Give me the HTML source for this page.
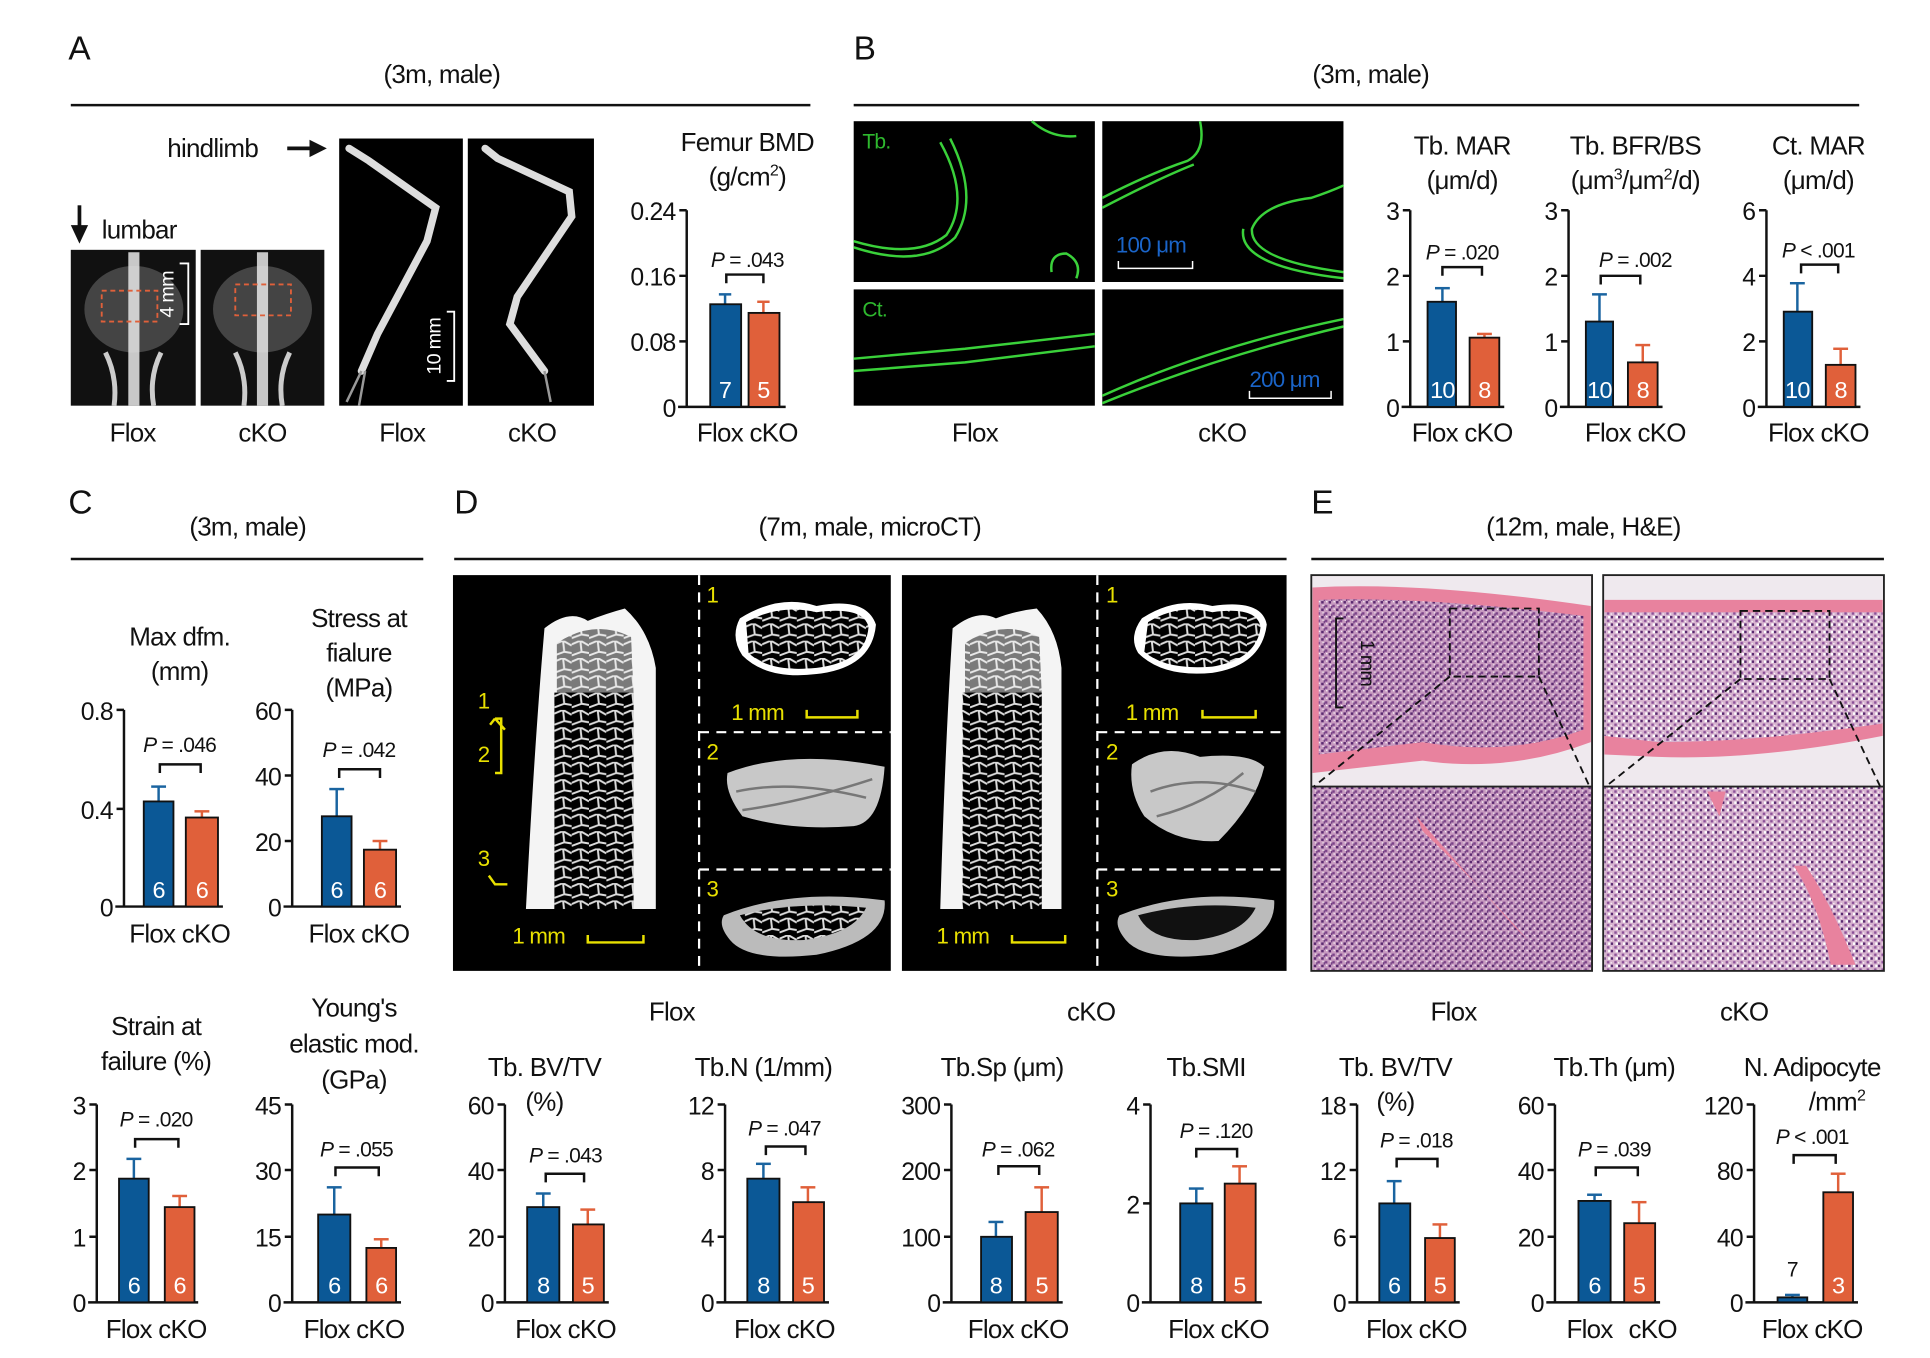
<!DOCTYPE html>
<html><head><meta charset="utf-8">
<style>
html,body{margin:0;padding:0;background:#fff;width:1930px;height:1358px;overflow:hidden}
svg{display:block}
text{font-family:"Liberation Sans Narrow","Liberation Sans",sans-serif;fill:#111;letter-spacing:-0.6px}
.t{font-size:21px;text-anchor:middle}
.tk{font-size:20px;text-anchor:end}
.p{font-size:17px;text-anchor:middle}
.n{font-size:19px;text-anchor:middle;fill:#fff}
.L{font-size:27px;font-family:"Liberation Sans",sans-serif}
.ax{stroke:#111;stroke-width:2;fill:none}
.fb{fill:#0b5896;stroke:#111;stroke-width:1.5}
.fo{fill:#e0603a;stroke:#111;stroke-width:1.5}
.eb{stroke:#1a64a0;stroke-width:2}
.eo{stroke:#e0603a;stroke-width:2}
.br{stroke:#111;stroke-width:2;fill:none}
.y{fill:#e8e000;font-size:18px}
.yl{stroke:#e8e000;stroke-width:2;fill:none}
.g{stroke:#3ad13a;fill:none}
</style></head><body>
<svg width="1930" height="1358" viewBox="0 0 1560 1098" xmlns="http://www.w3.org/2000/svg">
<defs>
<pattern id="trab" width="14" height="14" patternUnits="userSpaceOnUse">
<rect width="14" height="14" fill="#000"/><path d="M0 3 L7 0 L14 4 M7 0 L8 9 L0 12 M8 9 L14 10" stroke="#ddd" stroke-width="1.6" fill="none"/></pattern>
<pattern id="he" width="6" height="6" patternUnits="userSpaceOnUse">
<rect width="6" height="6" fill="#c79ac0"/><rect x="0" y="0" width="2" height="2" fill="#5a2a70"/><rect x="3" y="3" width="2" height="2" fill="#7a4288"/><rect x="2" y="4" width="1" height="2" fill="#6a3a7e"/><rect x="4" y="0" width="1" height="1" fill="#fff"/><rect x="1" y="3" width="1" height="1" fill="#f3eef2"/></pattern>
<pattern id="he2" width="6" height="6" patternUnits="userSpaceOnUse">
<rect width="6" height="6" fill="#d8b4d0"/><rect x="0" y="0" width="2" height="2" fill="#5a2a70"/><rect x="3" y="3" width="2" height="2" fill="#8a5098"/><rect x="4" y="0" width="2" height="2" fill="#fff"/><rect x="0" y="4" width="1" height="1" fill="#fff"/></pattern>
</defs>

<!-- ===== Panel A ===== -->
<text x="55" y="48" class="L">A</text>
<text x="357" y="67" class="t">(3m, male)</text>
<line x1="57" y1="85" x2="655" y2="85" stroke="#111" stroke-width="2"/>
<text x="135" y="127" style="font-size:21px">hindlimb</text>
<path d="M232 120 H252" stroke="#111" stroke-width="3"/><path d="M250 113 L264 120 L250 127Z" fill="#111"/>
<path d="M64 166 V184" stroke="#111" stroke-width="3"/><path d="M57 182 L64 197 L71 182Z" fill="#111"/>
<text x="82" y="193" style="font-size:21px">lumbar</text>
<rect x="57" y="202" width="101" height="126" fill="#111"/>
<rect x="162" y="202" width="100" height="126" fill="#111"/>
<g fill="#777" opacity="0.5"><ellipse cx="108" cy="250" rx="40" ry="35"/><ellipse cx="212" cy="250" rx="40" ry="35"/></g>
<g stroke="#e8e8e8" stroke-width="9" fill="none" opacity=".85"><path d="M108 204 V328"/><path d="M212 204 V328"/></g>
<g stroke="#ccc" stroke-width="4" fill="none"><path d="M85 285 Q95 305 92 328 M130 285 Q120 305 124 328 M190 285 Q200 305 197 328 M234 285 Q224 305 228 328"/></g>
<rect x="82" y="235" width="45" height="25" fill="none" stroke="#e0603a" stroke-width="1.5" stroke-dasharray="4 3"/>
<rect x="190" y="230" width="45" height="25" fill="none" stroke="#e0603a" stroke-width="1.5" stroke-dasharray="4 3"/>
<path d="M145 213 H152 V262 H145" stroke="#fff" stroke-width="1.5" fill="none"/>
<text x="0" y="0" transform="translate(140 238) rotate(-90)" style="font-size:16px;fill:#fff;text-anchor:middle">4 mm</text>
<rect x="274" y="112" width="100" height="216" fill="#000"/>
<rect x="378" y="112" width="102" height="216" fill="#000"/>
<g stroke="#ddd" stroke-width="6" fill="none" stroke-linecap="round"><path d="M282 120 L298 130 L352 168 L345 195 L305 270 L292 300"/><path d="M392 120 L402 128 L460 155 L462 175 L418 240 L412 262 L440 300"/></g>
<g stroke="#999" stroke-width="2" fill="none"><path d="M292 300 L280 325 M295 300 L290 328 M440 300 L445 325"/></g>
<path d="M361 252 H367 V308 H361" stroke="#fff" stroke-width="1.5" fill="none"/>
<text transform="translate(356 280) rotate(-90)" style="font-size:16px;fill:#fff;text-anchor:middle">10 mm</text>
<text x="107" y="357" class="t">Flox</text><text x="212" y="357" class="t">cKO</text>
<text x="325" y="357" class="t">Flox</text><text x="430" y="357" class="t">cKO</text>
<!-- BMD -->
<text x="604" y="122" class="t">Femur BMD</text>
<text x="604" y="150" class="t">(g/cm<tspan dy="-8" style="font-size:13px">2</tspan><tspan dy="8">)</tspan></text>
<path class="ax" d="M555 170 V329 M548 329 H635 M549 170 H555 M549 223 H555 M549 276 H555"/>
<text x="546" y="178" class="tk">0.24</text><text x="546" y="231" class="tk">0.16</text><text x="546" y="284" class="tk">0.08</text><text x="546" y="337" class="tk">0</text>
<line x1="586" y1="238" x2="586" y2="246" class="eb"/><line x1="581" y1="238" x2="591" y2="238" class="eb"/>
<line x1="617" y1="244" x2="617" y2="253" class="eo"/><line x1="612" y1="244" x2="622" y2="244" class="eo"/>
<rect x="574" y="246" width="25" height="83" class="fb"/><rect x="605" y="253" width="25" height="76" class="fo"/>
<text x="586" y="322" class="n">7</text><text x="617" y="322" class="n">5</text>
<text x="604" y="216" class="p"><tspan font-style="italic">P</tspan> = .043</text>
<path class="br" d="M587 229 V222 H617 V229"/>
<text x="604" y="357" class="t">Flox cKO</text>

<!-- ===== Panel B ===== -->
<text x="690" y="48" class="L">B</text>
<text x="1108" y="67" class="t">(3m, male)</text>
<line x1="690" y1="85" x2="1503" y2="85" stroke="#111" stroke-width="2"/>
<rect x="690" y="98" width="195" height="130" fill="#000"/>
<rect x="891" y="98" width="195" height="130" fill="#000"/>
<rect x="690" y="234" width="195" height="94" fill="#000"/>
<rect x="891" y="234" width="195" height="94" fill="#000"/>
<text x="697" y="120" style="font-size:17px;fill:#2eb82e">Tb.</text>
<text x="697" y="256" style="font-size:17px;fill:#2eb82e">Ct.</text>
<g class="g" stroke-width="2"><path d="M690 195 Q740 210 765 190 Q785 160 760 115"/><path d="M690 200 Q745 218 772 192 Q792 160 768 112"/><path d="M834 98 Q850 112 870 110"/><path d="M850 220 Q848 205 862 205 Q875 212 870 225"/>
<path d="M891 160 Q930 140 960 130 Q975 122 970 98"/><path d="M891 168 Q935 145 965 133"/><path d="M1086 220 Q1010 210 1012 185 Q1020 165 1060 160 Q1075 155 1086 150"/><path d="M1086 225 Q1000 215 1005 185"/>
<path d="M690 290 L780 282 L885 270"/><path d="M690 300 L780 293 L885 280"/><path d="M891 320 Q980 280 1086 258"/><path d="M891 326 Q985 288 1086 264"/></g>
<text x="902" y="204" style="font-size:18px;fill:#1a64c8">100 μm</text>
<path d="M904 211 V217 H964 V211" stroke="#fff" stroke-width="1.2" fill="none"/>
<text x="1010" y="313" style="font-size:18px;fill:#1a64c8">200 μm</text>
<path d="M1010 316 V322 H1076 V316" stroke="#fff" stroke-width="1.2" fill="none"/>
<text x="788" y="357" class="t">Flox</text><text x="988" y="357" class="t">cKO</text>
<!-- Tb MAR -->
<text x="1182" y="125" class="t">Tb. MAR</text><text x="1182" y="153" class="t">(μm/d)</text>
<path class="ax" d="M1140 170 V329 M1133 329 H1216 M1134 170 H1140 M1134 223 H1140 M1134 276 H1140"/>
<text x="1131" y="178" class="tk">3</text><text x="1131" y="231" class="tk">2</text><text x="1131" y="284" class="tk">1</text><text x="1131" y="337" class="tk">0</text>
<line x1="1166" y1="233" x2="1166" y2="244" class="eb"/><line x1="1160" y1="233" x2="1172" y2="233" class="eb"/>
<line x1="1200" y1="270" x2="1200" y2="273" class="eo"/><line x1="1194" y1="270" x2="1206" y2="270" class="eo"/>
<rect x="1154" y="244" width="23" height="85" class="fb"/><rect x="1188" y="273" width="24" height="56" class="fo"/>
<text x="1166" y="322" class="n">10</text><text x="1200" y="322" class="n">8</text>
<text x="1182" y="210" class="p"><tspan font-style="italic">P</tspan> = .020</text>
<path class="br" d="M1166 223 V216 H1198 V223"/>
<text x="1182" y="357" class="t">Flox cKO</text>
<!-- BFR -->
<text x="1322" y="125" class="t">Tb. BFR/BS</text>
<text x="1322" y="153" class="t">(μm<tspan dy="-8" style="font-size:13px">3</tspan><tspan dy="8">/μm</tspan><tspan dy="-8" style="font-size:13px">2</tspan><tspan dy="8">/d)</tspan></text>
<path class="ax" d="M1268 170 V329 M1261 329 H1344 M1262 170 H1268 M1262 223 H1268 M1262 276 H1268"/>
<text x="1259" y="178" class="tk">3</text><text x="1259" y="231" class="tk">2</text><text x="1259" y="284" class="tk">1</text><text x="1259" y="337" class="tk">0</text>
<line x1="1293" y1="238" x2="1293" y2="260" class="eb"/><line x1="1287" y1="238" x2="1299" y2="238" class="eb"/>
<line x1="1328" y1="279" x2="1328" y2="293" class="eo"/><line x1="1322" y1="279" x2="1334" y2="279" class="eo"/>
<rect x="1282" y="260" width="22" height="69" class="fb"/><rect x="1316" y="293" width="24" height="36" class="fo"/>
<text x="1293" y="322" class="n">10</text><text x="1328" y="322" class="n">8</text>
<text x="1322" y="216" class="p"><tspan font-style="italic">P</tspan> = .002</text>
<path class="br" d="M1294 230 V223 H1326 V230"/>
<text x="1322" y="357" class="t">Flox cKO</text>
<!-- Ct MAR -->
<text x="1470" y="125" class="t">Ct. MAR</text><text x="1470" y="153" class="t">(μm/d)</text>
<path class="ax" d="M1428 170 V329 M1421 329 H1504 M1422 170 H1428 M1422 223 H1428 M1422 276 H1428"/>
<text x="1419" y="178" class="tk">6</text><text x="1419" y="231" class="tk">4</text><text x="1419" y="284" class="tk">2</text><text x="1419" y="337" class="tk">0</text>
<line x1="1453" y1="229" x2="1453" y2="252" class="eb"/><line x1="1447" y1="229" x2="1459" y2="229" class="eb"/>
<line x1="1488" y1="282" x2="1488" y2="295" class="eo"/><line x1="1482" y1="282" x2="1494" y2="282" class="eo"/>
<rect x="1442" y="252" width="23" height="77" class="fb"/><rect x="1476" y="295" width="24" height="34" class="fo"/>
<text x="1453" y="322" class="n">10</text><text x="1488" y="322" class="n">8</text>
<text x="1470" y="208" class="p"><tspan font-style="italic">P</tspan> &lt; .001</text>
<path class="br" d="M1456 221 V214 H1486 V221"/>
<text x="1470" y="357" class="t">Flox cKO</text>

<!-- ===== Panel C ===== -->
<text x="55" y="415" class="L">C</text>
<text x="200" y="433" class="t">(3m, male)</text>
<line x1="57" y1="452" x2="342" y2="452" stroke="#111" stroke-width="2"/>
<text x="145" y="522" class="t">Max dfm.</text><text x="145" y="550" class="t">(mm)</text>
<path class="ax" d="M100 574 V733 M93 733 H180 M94 574 H100 M94 654 H100"/>
<text x="91" y="582" class="tk">0.8</text><text x="91" y="662" class="tk">0.4</text><text x="91" y="741" class="tk">0</text>
<line x1="128" y1="636" x2="128" y2="648" class="eb"/><line x1="122" y1="636" x2="134" y2="636" class="eb"/>
<line x1="163" y1="656" x2="163" y2="661" class="eo"/><line x1="157" y1="656" x2="169" y2="656" class="eo"/>
<rect x="116" y="648" width="24" height="85" class="fb"/><rect x="150" y="661" width="26" height="72" class="fo"/>
<text x="128" y="726" class="n">6</text><text x="163" y="726" class="n">6</text>
<text x="145" y="608" class="p"><tspan font-style="italic">P</tspan> = .046</text>
<path class="br" d="M129 625 V618 H162 V625"/>
<text x="145" y="762" class="t">Flox cKO</text>
<text x="290" y="507" class="t">Stress at</text><text x="290" y="535" class="t">fialure</text><text x="290" y="563" class="t">(MPa)</text>
<path class="ax" d="M236 574 V733 M229 733 H324 M230 574 H236 M230 627 H236 M230 680 H236"/>
<text x="227" y="582" class="tk">60</text><text x="227" y="635" class="tk">40</text><text x="227" y="688" class="tk">20</text><text x="227" y="741" class="tk">0</text>
<line x1="272" y1="638" x2="272" y2="660" class="eb"/><line x1="266" y1="638" x2="278" y2="638" class="eb"/>
<line x1="307" y1="680" x2="307" y2="687" class="eo"/><line x1="301" y1="680" x2="313" y2="680" class="eo"/>
<rect x="260" y="660" width="24" height="73" class="fb"/><rect x="294" y="687" width="26" height="46" class="fo"/>
<text x="272" y="726" class="n">6</text><text x="307" y="726" class="n">6</text>
<text x="290" y="612" class="p"><tspan font-style="italic">P</tspan> = .042</text>
<path class="br" d="M274 629 V622 H307 V629"/>
<text x="290" y="762" class="t">Flox cKO</text>
<text x="126" y="837" class="t">Strain at</text><text x="126" y="865" class="t">failure (%)</text>
<path class="ax" d="M78 893 V1053 M71 1053 H160 M72 893 H78 M72 946 H78 M72 1000 H78"/>
<text x="69" y="901" class="tk">3</text><text x="69" y="954" class="tk">2</text><text x="69" y="1008" class="tk">1</text><text x="69" y="1061" class="tk">0</text>
<line x1="108" y1="937" x2="108" y2="953" class="eb"/><line x1="102" y1="937" x2="114" y2="937" class="eb"/>
<line x1="145" y1="967" x2="145" y2="976" class="eo"/><line x1="139" y1="967" x2="151" y2="967" class="eo"/>
<rect x="96" y="953" width="24" height="100" class="fb"/><rect x="133" y="976" width="24" height="77" class="fo"/>
<text x="108" y="1046" class="n">6</text><text x="145" y="1046" class="n">6</text>
<text x="126" y="911" class="p"><tspan font-style="italic">P</tspan> = .020</text>
<path class="br" d="M109 928 V921 H144 V928"/>
<text x="126" y="1082" class="t">Flox cKO</text>
<text x="286" y="822" class="t">Young's</text><text x="286" y="851" class="t">elastic mod.</text><text x="286" y="880" class="t">(GPa)</text>
<path class="ax" d="M236 893 V1053 M229 1053 H324 M230 893 H236 M230 946 H236 M230 1000 H236"/>
<text x="227" y="901" class="tk">45</text><text x="227" y="954" class="tk">30</text><text x="227" y="1008" class="tk">15</text><text x="227" y="1061" class="tk">0</text>
<line x1="270" y1="960" x2="270" y2="982" class="eb"/><line x1="264" y1="960" x2="276" y2="960" class="eb"/>
<line x1="308" y1="1002" x2="308" y2="1009" class="eo"/><line x1="302" y1="1002" x2="314" y2="1002" class="eo"/>
<rect x="257" y="982" width="26" height="71" class="fb"/><rect x="296" y="1009" width="24" height="44" class="fo"/>
<text x="270" y="1046" class="n">6</text><text x="308" y="1046" class="n">6</text>
<text x="288" y="935" class="p"><tspan font-style="italic">P</tspan> = .055</text>
<path class="br" d="M271 951 V944 H306 V951"/>
<text x="286" y="1082" class="t">Flox cKO</text>

<!-- ===== Panel D ===== -->
<text x="367" y="415" class="L">D</text>
<text x="703" y="433" class="t">(7m, male, microCT)</text>
<line x1="367" y1="452" x2="1040" y2="452" stroke="#111" stroke-width="2"/>
<rect x="366" y="465" width="354" height="320" fill="#000"/>
<rect x="729" y="465" width="311" height="320" fill="#000"/>
<path d="M440 508 Q460 492 475 502 Q490 496 505 492 Q525 510 530 540 L530 735 L512 735 L512 560 L452 560 L448 735 L425 735 Q432 600 440 508Z" fill="#f4f4f4"/>
<rect x="448" y="560" width="64" height="175" fill="url(#trab)"/>
<path d="M450 520 Q480 500 510 515 L512 560 L450 560Z" fill="url(#trab)" opacity=".5"/>
<path d="M770 508 Q790 492 805 500 Q820 494 838 492 Q855 510 858 540 L858 735 L842 735 L842 560 L782 560 L778 735 L760 735 Q764 600 770 508Z" fill="#f4f4f4"/>
<rect x="778" y="560" width="64" height="175" fill="url(#trab)"/>
<path d="M780 520 Q810 500 840 515 L842 560 L780 560Z" fill="url(#trab)" opacity=".5"/>
<g>
<path d="M598 500 Q630 480 660 490 Q700 482 708 505 Q705 540 660 545 Q620 550 600 530 Q590 515 598 500Z" fill="#fff"/>
<path d="M603 503 Q630 488 660 495 Q698 490 702 507 Q700 535 660 540 Q622 544 605 528Z" fill="url(#trab)"/>
<path d="M923 500 Q950 482 980 490 Q1020 484 1024 505 Q1020 538 980 544 Q940 548 920 528 Q912 515 923 500Z" fill="#fff"/>
<path d="M928 503 Q952 488 980 495 Q1016 490 1019 507 Q1016 533 980 539 Q942 542 925 527Z" fill="url(#trab)"/>
<path d="M588 625 Q640 605 715 620 Q712 665 690 668 Q640 672 600 660 Q585 640 588 625Z" fill="#c8c8c8"/>
<path d="M915 618 Q940 600 970 612 Q1010 608 1022 620 Q1015 650 985 680 Q950 682 925 660 Q912 640 915 618Z" fill="#c8c8c8"/>
<g stroke="#777" stroke-width="2" fill="none"><path d="M595 640 Q640 630 700 645 M600 655 Q650 648 705 630 M930 640 Q970 625 1015 640 M935 660 Q975 650 1005 625"/></g>
<path d="M585 740 Q640 718 715 728 Q718 760 660 772 Q605 778 590 760 Q580 748 585 740Z" fill="#bbb"/>
<path d="M598 740 Q645 728 700 734 Q690 755 650 760 Q610 762 598 740Z" fill="url(#trab)"/>
<path d="M905 740 Q960 718 1030 728 Q1032 760 980 772 Q925 778 910 760 Q900 748 905 740Z" fill="#bbb"/>
<path d="M920 740 Q965 728 1015 734 Q1005 755 968 760 Q930 762 920 740Z" fill="#111"/>
</g>
<g stroke="#fff" stroke-width="1.8" stroke-dasharray="8 6" fill="none"><path d="M565 465 V785 M565 592 H720 M565 703 H720 M887 465 V785 M887 592 H1040 M887 703 H1040"/></g>
<text x="571" y="487" class="y">1</text><text x="571" y="614" class="y">2</text><text x="571" y="725" class="y">3</text>
<text x="894" y="487" class="y">1</text><text x="894" y="614" class="y">2</text><text x="894" y="725" class="y">3</text>
<text x="591" y="582" class="y">1 mm</text><path class="yl" d="M652 574 V580 H693 V574"/>
<text x="910" y="582" class="y">1 mm</text><path class="yl" d="M972 574 V580 H1015 V574"/>
<text x="414" y="763" class="y">1 mm</text><path class="yl" d="M475 756 V762 H520 V756"/>
<text x="757" y="763" class="y">1 mm</text><path class="yl" d="M818 756 V762 H861 V756"/>
<text x="386" y="573" class="y">1</text><text x="386" y="616" class="y">2</text><text x="386" y="700" class="y">3</text>
<path class="yl" d="M400 581 H405 V625 H400 M408 590 L400 581 M396 586 L400 581 M410 715 H400 L395 708"/>
<text x="543" y="825" class="t">Flox</text><text x="882" y="825" class="t">cKO</text>
<text x="440" y="870" class="t">Tb. BV/TV</text><text x="440" y="898" class="t">(%)</text>
<path class="ax" d="M408 893 V1053 M401 1053 H492 M402 893 H408 M402 946 H408 M402 1000 H408"/>
<text x="399" y="901" class="tk">60</text><text x="399" y="954" class="tk">40</text><text x="399" y="1008" class="tk">20</text><text x="399" y="1061" class="tk">0</text>
<line x1="439" y1="965" x2="439" y2="976" class="eb"/><line x1="433" y1="965" x2="445" y2="965" class="eb"/>
<line x1="475" y1="978" x2="475" y2="990" class="eo"/><line x1="469" y1="978" x2="481" y2="978" class="eo"/>
<rect x="426" y="976" width="26" height="77" class="fb"/><rect x="463" y="990" width="25" height="63" class="fo"/>
<text x="439" y="1046" class="n">8</text><text x="475" y="1046" class="n">5</text>
<text x="457" y="940" class="p"><tspan font-style="italic">P</tspan> = .043</text>
<path class="br" d="M441 956 V949 H472 V956"/>
<text x="457" y="1082" class="t">Flox cKO</text>
<text x="617" y="870" class="t">Tb.N (1/mm)</text>
<path class="ax" d="M586 893 V1053 M579 1053 H670 M580 893 H586 M580 946 H586 M580 1000 H586"/>
<text x="577" y="901" class="tk">12</text><text x="577" y="954" class="tk">8</text><text x="577" y="1008" class="tk">4</text><text x="577" y="1061" class="tk">0</text>
<line x1="617" y1="941" x2="617" y2="953" class="eb"/><line x1="611" y1="941" x2="623" y2="941" class="eb"/>
<line x1="653" y1="960" x2="653" y2="972" class="eo"/><line x1="647" y1="960" x2="659" y2="960" class="eo"/>
<rect x="604" y="953" width="26" height="100" class="fb"/><rect x="641" y="972" width="25" height="81" class="fo"/>
<text x="617" y="1046" class="n">8</text><text x="653" y="1046" class="n">5</text>
<text x="634" y="918" class="p"><tspan font-style="italic">P</tspan> = .047</text>
<path class="br" d="M619 934 V927 H651 V934"/>
<text x="634" y="1082" class="t">Flox cKO</text>
<text x="810" y="870" class="t">Tb.Sp (μm)</text>
<path class="ax" d="M769 893 V1053 M762 1053 H859 M763 893 H769 M763 946 H769 M763 1000 H769"/>
<text x="760" y="901" class="tk">300</text><text x="760" y="954" class="tk">200</text><text x="760" y="1008" class="tk">100</text><text x="760" y="1061" class="tk">0</text>
<line x1="805" y1="988" x2="805" y2="1000" class="eb"/><line x1="799" y1="988" x2="811" y2="988" class="eb"/>
<line x1="842" y1="960" x2="842" y2="980" class="eo"/><line x1="836" y1="960" x2="848" y2="960" class="eo"/>
<rect x="793" y="1000" width="25" height="53" class="fb"/><rect x="829" y="980" width="26" height="73" class="fo"/>
<text x="805" y="1046" class="n">8</text><text x="842" y="1046" class="n">5</text>
<text x="823" y="935" class="p"><tspan font-style="italic">P</tspan> = .062</text>
<path class="br" d="M807 950 V943 H840 V950"/>
<text x="823" y="1082" class="t">Flox cKO</text>
<text x="975" y="870" class="t">Tb.SMI</text>
<path class="ax" d="M930 893 V1053 M923 1053 H1020 M924 893 H930 M924 973 H930"/>
<text x="921" y="901" class="tk">4</text><text x="921" y="981" class="tk">2</text><text x="921" y="1061" class="tk">0</text>
<line x1="967" y1="961" x2="967" y2="973" class="eb"/><line x1="961" y1="961" x2="973" y2="961" class="eb"/>
<line x1="1002" y1="943" x2="1002" y2="957" class="eo"/><line x1="996" y1="943" x2="1008" y2="943" class="eo"/>
<rect x="954" y="973" width="26" height="80" class="fb"/><rect x="990" y="957" width="25" height="96" class="fo"/>
<text x="967" y="1046" class="n">8</text><text x="1002" y="1046" class="n">5</text>
<text x="983" y="920" class="p"><tspan font-style="italic">P</tspan> = .120</text>
<path class="br" d="M967 936 V929 H1000 V936"/>
<text x="985" y="1082" class="t">Flox cKO</text>

<!-- ===== Panel E ===== -->
<text x="1060" y="415" class="L">E</text>
<text x="1280" y="433" class="t">(12m, male, H&amp;E)</text>
<line x1="1060" y1="452" x2="1523" y2="452" stroke="#111" stroke-width="2"/>
<rect x="1060" y="465" width="227" height="320" fill="#efe9ee"/>
<rect x="1296" y="465" width="227" height="320" fill="#efe9ee"/>
<path d="M1061 475 Q1150 470 1286 490 L1286 600 Q1220 625 1150 615 L1061 625Z" fill="#e8829e"/>
<path d="M1066 485 Q1150 482 1280 498 L1280 590 Q1220 612 1150 600 L1066 610Z" fill="url(#he)"/>
<path d="M1297 485 L1522 485 L1522 595 Q1420 615 1340 612 L1297 610Z" fill="#e8829e"/>
<path d="M1297 495 L1522 495 L1522 585 Q1420 600 1340 600 L1297 595Z" fill="url(#he2)"/>
<rect x="1061" y="636" width="226" height="149" fill="url(#he)"/>
<rect x="1297" y="636" width="226" height="149" fill="url(#he2)"/>
<path d="M1145 660 Q1180 700 1225 750 L1235 760 Q1200 720 1150 672Z" fill="#e8829e"/>
<path d="M1380 640 L1390 660 L1395 640Z M1450 700 Q1470 730 1480 780 L1500 780 Q1480 730 1460 700Z" fill="#e8829e"/>
<g stroke="#222" stroke-width="1.5" fill="none"><rect x="1060" y="465" width="227" height="320"/><rect x="1296" y="465" width="227" height="320"/><path d="M1060 636 H1287 M1296 636 H1523"/></g>
<g stroke="#111" stroke-width="1.5" fill="none" stroke-dasharray="6 4"><rect x="1172" y="492" width="72" height="55"/><path d="M1172 547 L1062 636 M1244 547 L1285 636"/><rect x="1407" y="494" width="72" height="55"/><path d="M1407 549 L1298 636 M1479 549 L1520 636"/></g>
<path d="M1086 500 H1080 V572 H1086" stroke="#111" stroke-width="1.5" fill="none"/>
<text transform="translate(1100 536) rotate(90)" style="font-size:16px;text-anchor:middle">1 mm</text>
<text x="1175" y="825" class="t">Flox</text><text x="1410" y="825" class="t">cKO</text>
<text x="1128" y="870" class="t">Tb. BV/TV</text><text x="1128" y="898" class="t">(%)</text>
<path class="ax" d="M1097 893 V1053 M1090 1053 H1180 M1091 893 H1097 M1091 946 H1097 M1091 1000 H1097"/>
<text x="1088" y="901" class="tk">18</text><text x="1088" y="954" class="tk">12</text><text x="1088" y="1008" class="tk">6</text><text x="1088" y="1061" class="tk">0</text>
<line x1="1127" y1="955" x2="1127" y2="973" class="eb"/><line x1="1121" y1="955" x2="1133" y2="955" class="eb"/>
<line x1="1164" y1="990" x2="1164" y2="1001" class="eo"/><line x1="1158" y1="990" x2="1170" y2="990" class="eo"/>
<rect x="1115" y="973" width="25" height="80" class="fb"/><rect x="1152" y="1001" width="24" height="52" class="fo"/>
<text x="1127" y="1046" class="n">6</text><text x="1164" y="1046" class="n">5</text>
<text x="1145" y="928" class="p"><tspan font-style="italic">P</tspan> = .018</text>
<path class="br" d="M1129 944 V937 H1162 V944"/>
<text x="1145" y="1082" class="t">Flox cKO</text>
<text x="1305" y="870" class="t">Tb.Th (μm)</text>
<path class="ax" d="M1257 893 V1053 M1250 1053 H1342 M1251 893 H1257 M1251 946 H1257 M1251 1000 H1257"/>
<text x="1248" y="901" class="tk">60</text><text x="1248" y="954" class="tk">40</text><text x="1248" y="1008" class="tk">20</text><text x="1248" y="1061" class="tk">0</text>
<line x1="1289" y1="966" x2="1289" y2="971" class="eb"/><line x1="1283" y1="966" x2="1295" y2="966" class="eb"/>
<line x1="1325" y1="972" x2="1325" y2="989" class="eo"/><line x1="1319" y1="972" x2="1331" y2="972" class="eo"/>
<rect x="1276" y="971" width="26" height="82" class="fb"/><rect x="1313" y="989" width="25" height="64" class="fo"/>
<text x="1289" y="1046" class="n">6</text><text x="1325" y="1046" class="n">5</text>
<text x="1305" y="935" class="p"><tspan font-style="italic">P</tspan> = .039</text>
<path class="br" d="M1290 951 V944 H1324 V951"/>
<text x="1285" y="1082" class="t">Flox</text><text x="1336" y="1082" class="t">cKO</text>
<text x="1465" y="870" class="t">N. Adipocyte</text>
<text x="1485" y="898" class="t">/mm<tspan dy="-8" style="font-size:13px">2</tspan></text>
<path class="ax" d="M1418 893 V1053 M1411 1053 H1502 M1412 893 H1418 M1412 946 H1418 M1412 1000 H1418"/>
<text x="1409" y="901" class="tk">120</text><text x="1409" y="954" class="tk">80</text><text x="1409" y="1008" class="tk">40</text><text x="1409" y="1061" class="tk">0</text>
<line x1="1449" y1="1047" x2="1449" y2="1049" class="eb"/><line x1="1443" y1="1047" x2="1455" y2="1047" class="eb"/>
<line x1="1486" y1="949" x2="1486" y2="964" class="eo"/><line x1="1480" y1="949" x2="1492" y2="949" class="eo"/>
<rect x="1437" y="1049" width="24" height="4" class="fb"/><rect x="1474" y="964" width="24" height="89" class="fo"/>
<text x="1449" y="1032" class="n" style="fill:#111;font-size:17px">7</text><text x="1486" y="1046" class="n">3</text>
<text x="1465" y="925" class="p"><tspan font-style="italic">P</tspan> &lt; .001</text>
<path class="br" d="M1450 941 V934 H1484 V941"/>
<text x="1465" y="1082" class="t">Flox cKO</text>
</svg>
</body></html>
